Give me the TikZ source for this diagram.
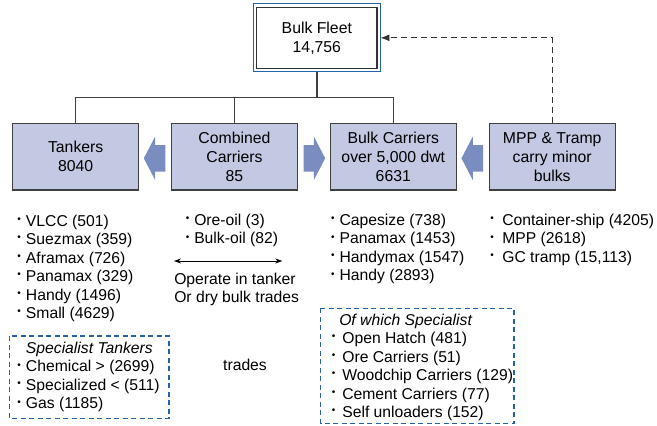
\documentclass[tikz,border=0pt]{standalone}
\usepackage{fontspec}
\setmainfont{Liberation Sans}
\usepackage{tikz}
\usetikzlibrary{arrows.meta,calc}
\definecolor{fleetfill}{RGB}{195,200,227}
\definecolor{fleetarrow}{RGB}{122,141,192}
\definecolor{fleetblue}{RGB}{38,98,168}
\tikzset{every picture/.style={line width=.55pt}}
\newcommand{\itm}[1][8.5pt]{\makebox[#1][l]{\raisebox{3.6pt}{\fontsize{10}{10}\selectfont•}}}
% fat arrow round a centre #1, pointing right (1) or left (-1)
\newcommand{\fatarrow}[2]{%
 \fill[fleetarrow] ([xshift={(#2)*11.3pt}]#1)
  -- ([yshift=21.7pt]#1) -- ([yshift=13.3pt]#1)
  -- ([xshift={-(#2)*10.3pt},yshift=13.3pt]#1)
  -- ([xshift={-(#2)*10.3pt},yshift=-13.3pt]#1)
  -- ([yshift=-13.3pt]#1) -- ([yshift=-21.7pt]#1) -- cycle;}

\begin{document}
\begin{tikzpicture}[x=1pt,y=-1pt,>=Latex,
 fleetbox/.style={draw=black!80,line width=1.4pt,fill=white,
  minimum width=120.3pt,minimum height=61pt,outer sep=3.4pt,align=center,
  font=\fontsize{15.8}{19}\selectfont},
 catbox/.style={draw=black!75,line width=1.3pt,fill=fleetfill,
  minimum width=126pt,minimum height=66.7pt,align=center,
  font=\fontsize{15.8}{19}\selectfont},
 listtext/.style={anchor=north west,align=left,inner sep=0pt,
  font=\fontsize{15.7}{18.5}\selectfont},
 tree/.style={draw=black!75,line width=1.3pt},
 dashlink/.style={draw=black!80,line width=1.2pt,dash pattern=on 6pt off 4pt,
  -{Latex[length=9pt,width=7pt]}},
 specdash/.style={draw=fleetblue,line width=1.2pt,dash pattern=on 5pt off 3.5pt}]
 \useasboundingbox (0,0) rectangle (657,426);

 % Whole fleet on top, with its double frame.
 \node[fleetbox] (fleet) at (316.85,37.8) {Bulk Fleet\\14,756};
 \draw[fleetblue,line width=.9pt] (fleet.north west) rectangle (fleet.south east);

 % The four parts of the fleet.
 \node[catbox] (tank) at (75.7,156.7) {Tankers\\8040};
 \node[catbox] (combi) at (234.5,156.7) {Combined\\Carriers\\85};
 \node[catbox] (bulk) at (393.3,156.7) {Bulk Carriers\\over 5,000 dwt\\6631};
 \node[catbox] (mpp) at (552.2,156.7) {MPP \& Tramp\\carry minor\\bulks};

 \coordinate (bar) at (316,97.5);
 \foreach \n in {tank,combi,bulk}
  \draw[tree] (fleet.south) -- (fleet.south |- bar) -| (\n.north);
 \draw[dashlink] (mpp.north) |- (fleet.east);

 % Fat arrows between the boxes.
 \coordinate (a1) at ($(tank.east)!.5!(combi.west)+(0,1.6)$);
 \coordinate (a2) at ($(combi.east)!.5!(bulk.west)+(0,1.6)$);
 \coordinate (a3) at ($(bulk.east)!.5!(mpp.west)+(0,1.6)$);
 \fatarrow{a1}{-1}
 \fatarrow{a2}{1}
 \fatarrow{a3}{-1}

 % Lists under each box.
 \node[listtext] (tanklist) at (17.2,214.4)
  {\itm VLCC (501)\\\itm Suezmax (359)\\\itm Aframax (726)\\
   \itm Panamax (329)\\\itm Handy (1496)\\\itm Small (4629)};
 \node[listtext] (combilist) at (185.5,213.7)
  {\itm Ore-oil (3)\\\itm Bulk-oil (82)};
 \node[listtext] (bulklist) at (330.8,213.7)
  {\itm Capesize (738)\\\itm Panamax (1453)\\\itm Handymax (1547)\\
   \itm Handy (2893)};
 \node[listtext] (mpplist) at (490.2,213.7)
  {\itm[7.5pt] Container-ship (4205)\\\itm[7.5pt] MPP (2618)\\
   \itm[7.5pt] GC tramp (15,113)};

 % Combined carriers swing between the two trades.
 \coordinate (tradeL) at (174,261);
 \coordinate (tradeR) at (282.3,261);
 \draw[{Stealth[length=7pt,width=5pt]}-{Stealth[length=7pt,width=5pt]},
  line width=.8pt] (tradeL) -- (tradeR);
 \node[listtext] (note) at (174,272.7) {Operate in tanker\\Or dry bulk trades};
 \node[font=\fontsize{15.7}{18.5}\selectfont] (trades) at (245,365) {trades};

 % Specialist groups in dashed frames.
 \draw[specdash] (9.3,336) rectangle (169,418.3);
 \node[listtext] (spectank) at (17.2,341.7)
  {\hspace{8.5pt}\textit{Specialist Tankers}\\\itm Chemical > (2699)\\
   \itm Specialized < (511)\\\itm Gas (1185)};
 \draw[specdash] (320.7,308.3) rectangle (514,423.3);
 \node[listtext] (specbulk) at (331.7,313.4)
  {\hspace{7.3pt}\textit{Of which Specialist}\\\itm[6pt] Open Hatch (481)\\
   \itm[6pt] Ore Carriers (51)\\\itm[6pt] Woodchip Carriers (129)\\
   \itm[6pt] Cement Carriers (77)\\\itm[6pt] Self unloaders (152)};
\end{tikzpicture}
\end{document}
